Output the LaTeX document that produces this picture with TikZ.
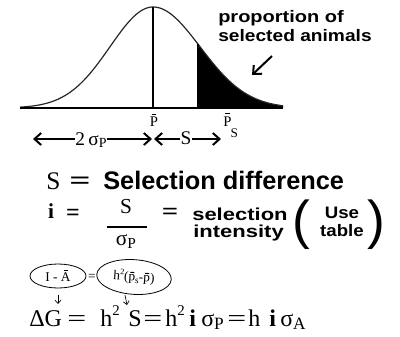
\documentclass[tikz,border=0pt]{standalone}
\usepackage{fontspec}
\setmainfont{Liberation Serif}
\setsansfont{Liberation Sans}
\usepackage{graphicx}
\usetikzlibrary{arrows.meta,shapes.geometric}
\newcommand{\ovl}[1]{\leavevmode\vbox{\offinterlineskip\halign{\hfil##\hfil\cr\rule{0.32em}{0.07em}\cr\noalign{\kern0.14em}#1\cr}}}
\newcommand{\lowsub}[1]{\raisebox{-0.15em}{\scalebox{0.72}{#1}}}
\newcommand{\hisup}[1]{\raisebox{0.42em}{\scalebox{0.62}{#1}}}
\newcommand{\weq}{\scalebox{1.4}[1]{=}}
\tikzset{
  curve/.style={line width=0.9pt, black!85},
  arr/.style={line width=1.5pt, -{Straight Barb[length=5pt,width=9pt]}},
  smallarr/.style={line width=0.5pt, -{Straight Barb[length=2.5pt,width=4.5pt]}},
  circ/.style={draw, ellipse, line width=0.6pt, inner sep=0pt, font=\fontsize{10}{10}\selectfont},
  lbl/.style={inner sep=0pt},
  sanslbl/.style={inner sep=0pt, font=\sffamily\bfseries},
  eqn/.style={inner sep=0pt, anchor=base west, font=\fontsize{18}{18}\selectfont},
}
\begin{document}
\begin{tikzpicture}[x=0.75pt,y=-0.75pt]
\useasboundingbox (0,0) rectangle (400,336);
% distribution
\fill[black] plot[domain=198:283, samples=60] (\x, {108-101*exp(-0.5*((\x-153)/47)^2)}) -- (283,108) -- (198,108) -- cycle;
\draw[curve] plot[domain=20:153, samples=80] (\x, {108-101*exp(-0.5*((\x-153)/43)^2)});
\draw[curve] plot[domain=153:283, samples=80] (\x, {108-101*exp(-0.5*((\x-153)/47)^2)});
\draw[line width=1.3pt] (153,7) -- (153,108);
\draw[line width=1pt] (198,44) -- (198,108);
\draw[line width=1.6pt] (20,108) -- (283,108);
% proportion label
\node[sanslbl, anchor=base west] (prop) at (218,22) {\scalebox{1.2}[1]{\fontsize{12.5}{12.5}\selectfont proportion of}};
\node[sanslbl, anchor=base west] (prop2) at (218,41) {\scalebox{1.15}[1]{\fontsize{12.5}{12.5}\selectfont selected animals}};
\coordinate (ptip) at (252,75);
\coordinate (pstart) at (272,56);
\draw[arr] (pstart) -- (ptip);
% P bars
\node[lbl, font=\fontsize{11}{11}\selectfont] (pbar) at (154,120) {\ovl{P}};
\node[lbl, anchor=base, font=\fontsize{14.5}{14.5}\selectfont] (sig) at (91,145) {2\,σ\lowsub{P}};
\coordinate (la) at (33,139);
\coordinate (m1a) at (152,139);
\coordinate (m1b) at (154,139);
\draw[arr] (sig.west |- la) -- (la);
\draw[arr] (sig.east |- la) -- (m1a);
\node[lbl, anchor=base, font=\fontsize{14.5}{14.5}\selectfont] (s1) at (186,144) {S};
\coordinate (r1) at (221,139);
\draw[arr] (s1.west |- r1) -- (m1b);
\draw[arr] (s1.east |- r1) -- (r1);
\node[lbl, anchor=base west, font=\fontsize{11}{11}\selectfont] (pbs) at (223,126) {\ovl{P}\hspace{-0.05em}\raisebox{-0.8em}{\scalebox{0.9}{S}}};
% S definition
\node[lbl, anchor=base west, font=\fontsize{19}{19}\selectfont] (sS) at (46,189) {S};
\node[lbl, anchor=base, font=\fontsize{20}{20}\selectfont\bfseries] (seq) at (80,189) {\weq};
\node[sanslbl, anchor=base west, font=\fontsize{19}{19}\selectfont\sffamily\bfseries] (sdef) at (103,189) {Selection difference};
% i definition
\node[lbl, anchor=base, font=\fontsize{16}{16}\selectfont\bfseries] (ii) at (51,218) {i};
\node[lbl, anchor=base, font=\fontsize{18}{18}\selectfont\bfseries] (ieq) at (73,220) {=};
\node[lbl, anchor=base, font=\fontsize{16}{16}\selectfont] (num) at (126,213) {S};
\draw[line width=1.8pt] (107,227) -- (147,227);
\node[lbl, anchor=base, font=\fontsize{16}{16}\selectfont] (den) at (126,245) {σ\lowsub{P}};
\node[lbl, anchor=base, font=\fontsize{18}{18}\selectfont\bfseries] (ieq2) at (170,219) {\scalebox{1.2}[1]{=}};
\node[sanslbl, anchor=base west, font=\fontsize{13}{13}\selectfont\sffamily\bfseries] (sel) at (192,220) {\scalebox{1.27}[1]{selection}};
\node[sanslbl, anchor=base west, font=\fontsize{13}{13}\selectfont\sffamily\bfseries] (int) at (193,237) {\scalebox{1.27}[1]{intensity}};
\node[lbl, font=\fontsize{40}{40}\selectfont\sffamily] (lp) at (301,225) {(};
\node[lbl, font=\fontsize{40}{40}\selectfont\sffamily] (rp) at (376,225) {)};
\node[sanslbl, anchor=base, font=\fontsize{12.5}{12.5}\selectfont\sffamily\bfseries] (use) at (342,218) {\scalebox{1.12}[1]{Use}};
\node[sanslbl, anchor=base, font=\fontsize{12.5}{12.5}\selectfont\sffamily\bfseries] (tab) at (342,236) {\scalebox{1.12}[1]{table}};
% bottom
\node[circ, minimum width=42, minimum height=18] (e1) at (58,276) {I - \ovl{A}};
\node[lbl, font=\fontsize{10}{10}\selectfont] (beq) at (92,277) {=};
\node[circ, minimum width=56, minimum height=26, rotate=-4] (e2) at (134,277) {h\hisup{2}(\ovl{p}\lowsub{s}-\ovl{p})};
\node[eqn] (dg) at (29,326) {ΔG};
\node[eqn] (q1) at (67,326) {\weq};
\node[eqn] (h1) at (100,326) {h\hisup{2}};
\node[eqn] (sb) at (128,326) {S};
\node[eqn] (q2) at (143,326) {\weq};
\node[eqn] (h2) at (165,326) {h\hisup{2}};
\node[eqn] (i1) at (189,326) {\textbf{i}};
\node[eqn] (sp) at (201,326) {σ\lowsub{P}};
\node[eqn] (q3) at (227,326) {\weq};
\node[eqn] (h3) at (248,326) {h};
\node[eqn] (i2) at (269,326) {\textbf{i}};
\node[eqn] (sa) at (280,326) {σ\lowsub{A}};
\coordinate (g1) at (58,304);
\coordinate (g2) at (127,305);
\draw[smallarr, shorten <=5pt] (e1.south) -- (g1);
\draw[smallarr, shorten <=1pt] (e2.-115) -- (g2);
\end{tikzpicture}
\end{document}
